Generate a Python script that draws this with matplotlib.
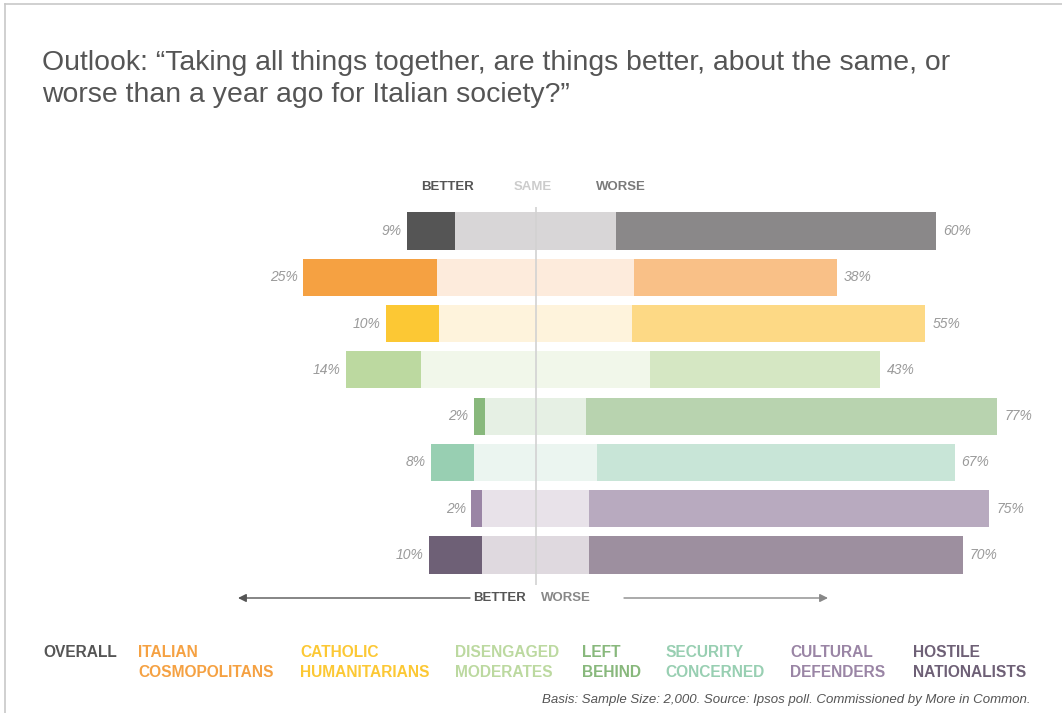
import matplotlib
matplotlib.use("Agg")
import matplotlib.pyplot as plt
from matplotlib.lines import Line2D

plt.rcParams['font.family'] = ['Liberation Sans', 'DejaVu Sans']

# data (percent)
groups = ["OVERALL", "ITALIAN\nCOSMOPOLITANS", "CATHOLIC\nHUMANITARIANS", "DISENGAGED\nMODERATES",
          "LEFT\nBEHIND", "SECURITY\nCONCERNED", "CULTURAL\nDEFENDERS", "HOSTILE\nNATIONALISTS"]
better = [9, 25, 10, 14, 2, 8, 2, 10]
same = [30, 37, 36, 43, 19, 23, 20, 20]
worse = [60, 38, 55, 43, 77, 67, 75, 70]

better_colors = ["#555555", "#f5a142", "#fcc834", "#bcd9a0", "#88b87c", "#98cfb2", "#9a85a5", "#6e6076"]
same_colors = ["#d8d6d7", "#fdebdc", "#fef3dc", "#f1f7ea", "#e6f0e4", "#ebf5f0", "#e8e2e9", "#dfd9df"]
worse_colors = ["#8a8889", "#f9c087", "#fdd985", "#d5e7c3", "#b8d3af", "#c8e5d7", "#b8aabf", "#9d8f9f"]

W, H = 1062, 713
fig = plt.figure(figsize=(W / 100, H / 100), dpi=100)

def fx(px):
    return px / W

def fy(py):
    return 1 - py / H

# bar axes: centre of "same" segment at 0, 5.34 px per percent
px_per = 5.34
cx = 535.5
left_px, right_px, top_px, bot_px = 200, 1045, 200, 590
ax = fig.add_axes([fx(left_px), fy(bot_px), (right_px - left_px) / W, (bot_px - top_px) / H])
ax.set_xlim((left_px - cx) / px_per, (right_px - cx) / px_per)
row_gap = 46.3
ax.set_ylim(7 + (bot_px - 555) / row_gap, -(231 - top_px) / row_gap)
ax.axis("off")

rows = list(range(len(groups)))
same_left = [-s / 2 for s in same]
better_left = [sl - b for sl, b in zip(same_left, better)]
worse_left = [s / 2 for s in same]

ax.barh(rows, better, left=better_left, height=0.8, color=better_colors, zorder=2)
ax.barh(rows, same, left=same_left, height=0.8, color=same_colors, zorder=2)
ax.barh(rows, worse, left=worse_left, height=0.8, color=worse_colors, zorder=2)

ax.vlines(0, -0.52, 7.65, color="#d2d2d2", lw=1.2, zorder=3)

for r in rows:
    ax.annotate(f"{better[r]}%", (better_left[r], r), xytext=(-4, 0), textcoords="offset points",
                ha="right", va="center", fontsize=10, style="italic", color="#9a9a9a")
    ax.annotate(f"{worse[r]}%", (worse_left[r] + worse[r], r), xytext=(5, 0), textcoords="offset points",
                ha="left", va="center", fontsize=10, style="italic", color="#9a9a9a")

# title
fig.text(fx(42), fy(79), "Outlook: \u201cTaking all things together, are things better, about the same, or\n"
         "worse than a year ago for Italian society?\u201d",
         fontsize=20.4, color="#555555", ha="left", va="center", linespacing=1.3)

# header
fig.text(fx(447), fy(187), "BETTER", fontsize=9.5, weight="bold", color="#555555", ha="center", va="center")
fig.text(fx(533), fy(187), "SAME", fontsize=9.5, weight="bold", color="#cccccc", ha="center", va="center")
fig.text(fx(621), fy(187), "WORSE", fontsize=9.5, weight="bold", color="#7a7a7a", ha="center", va="center")

# bottom arrows
fig.text(fx(500), fy(598), "BETTER", fontsize=9.5, weight="bold", color="#555555", ha="center", va="center")
fig.text(fx(566), fy(598), "WORSE", fontsize=9.5, weight="bold", color="#888888", ha="center", va="center")
fig.add_artist(plt.Annotation("", xy=(fx(238), fy(598)), xytext=(fx(470), fy(598)),
                              xycoords="figure fraction", textcoords="figure fraction",
                              arrowprops=dict(arrowstyle="-|>", color="#555555", lw=1,
                                              mutation_scale=12, shrinkA=0, shrinkB=0)))
fig.add_artist(plt.Annotation("", xy=(fx(828), fy(598)), xytext=(fx(624), fy(598)),
                              xycoords="figure fraction", textcoords="figure fraction",
                              arrowprops=dict(arrowstyle="-|>", color="#888888", lw=1,
                                              mutation_scale=12, shrinkA=0, shrinkB=0)))

# legend
legend_x = [43, 138, 300, 455, 582, 665, 790, 913]
for g, lx, c in zip(groups, legend_x, better_colors):
    fig.text(fx(lx), fy(645), g, fontsize=11.2, weight="bold", color=c, ha="left", va="top", linespacing=1.45)

fig.text(fx(1030), fy(700), "Basis: Sample Size: 2,000. Source: Ipsos poll. Commissioned by More in Common.",
         fontsize=9.5, style="italic", color="#555555", ha="right", va="center")

# frame
fig.add_artist(Line2D([fx(5), fx(5)], [fy(4), 0], color="#c8c8c8", lw=1.2))
fig.add_artist(Line2D([fx(5), 1], [fy(4), fy(4)], color="#c8c8c8", lw=1.2))

fig.savefig("out.png", dpi=100, facecolor="white")
